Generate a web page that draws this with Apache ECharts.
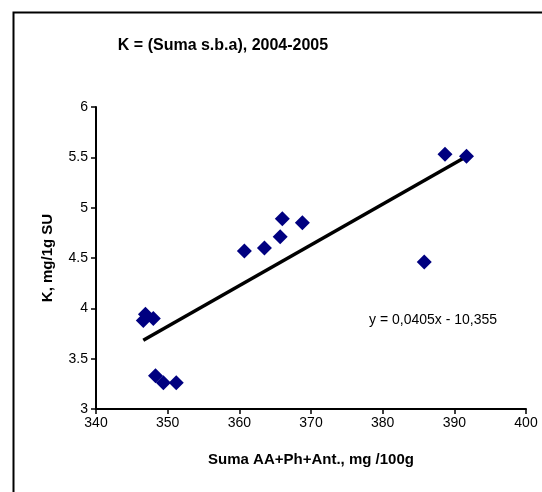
<!DOCTYPE html>
<html><head><meta charset="utf-8">
<script src="https://cdn.jsdelivr.net/npm/echarts@6/dist/echarts.min.js"></script>
<style>html,body{margin:0;padding:0;background:#fff}#c{width:542px;height:492px}</style>
</head><body><div id="c"></div>
<script>
const xValues = [346.9, 346.6, 348.0, 348.3, 349.4, 351.2, 360.7, 363.5, 365.7, 366.0, 368.8, 385.8, 388.7, 391.7];
const yValues = [3.94, 3.88, 3.90, 3.33, 3.26, 3.26, 4.57, 4.60, 4.71, 4.89, 4.85, 4.46, 5.53, 5.51];
const trendSlope = 0.0405;
const trendIntercept = -10.355;
const trendLabel = 'y = 0,0405x - 10,355';
const titleText = 'K = (Suma s.b.a), 2004-2005';
const xAxisName = 'Suma AA+Ph+Ant., mg /100g';
const yAxisName = 'K, mg/1g SU';

const points = xValues.map((x, i) => [x, yValues[i]]);
const xMin = Math.min(...xValues), xMax = Math.max(...xValues);
const trend = [[xMin, trendSlope * xMin + trendIntercept], [xMax, trendSlope * xMax + trendIntercept]];

const chart = echarts.init(document.getElementById('c'), null, {renderer: 'canvas'});
const font = 'Liberation Sans, Arial, sans-serif';
chart.setOption({
  animation: false,
  backgroundColor: '#fff',
  title: {text: titleText, left: 218, top: 33, textAlign: 'center',
    textStyle: {fontFamily: font, fontSize: 16, fontWeight: 'bold', color: '#000'}},
  grid: {left: 96, right: 16, top: 107, bottom: 83},
  xAxis: {type: 'value', min: 340, max: 400, interval: 10,
    name: xAxisName, nameLocation: 'middle', nameGap: 43,
    nameTextStyle: {fontFamily: font, fontSize: 15, fontWeight: 'bold', color: '#000'},
    axisLine: {lineStyle: {color: '#000', width: 2}},
    axisTick: {show: true, length: 5, lineStyle: {color: '#000', width: 1.5}},
    axisLabel: {fontFamily: font, fontSize: 14, color: '#000', margin: 7},
    splitLine: {show: false}},
  yAxis: {type: 'value', min: 3, max: 6, interval: 0.5,
    name: yAxisName, nameLocation: 'middle', nameGap: 41, nameRotate: 90,
    nameTextStyle: {fontFamily: font, fontSize: 15, fontWeight: 'bold', color: '#000'},
    axisLine: {show: true, lineStyle: {color: '#000', width: 2}},
    axisTick: {show: true, length: 5, lineStyle: {color: '#000', width: 1.5}},
    axisLabel: {fontFamily: font, fontSize: 14, color: '#000', margin: 8},
    splitLine: {show: false}},
  series: [
    {type: 'line', data: trend, symbol: 'none', lineStyle: {color: '#000', width: 3.5}, z: 1},
    {type: 'scatter', data: points, symbol: 'diamond', symbolSize: 15,
      itemStyle: {color: '#000080', opacity: 1}, z: 2}
  ],
  graphic: [
    {type: 'rect', left: 11, top: 10, shape: {width: 600, height: 600},
      style: {fill: 'none', stroke: '#000', lineWidth: 2}, silent: true},
    {type: 'text', left: 369, top: 313,
      style: {text: trendLabel, fontFamily: font, fontSize: 14, fill: '#000'}}
  ]
});
</script></body></html>
